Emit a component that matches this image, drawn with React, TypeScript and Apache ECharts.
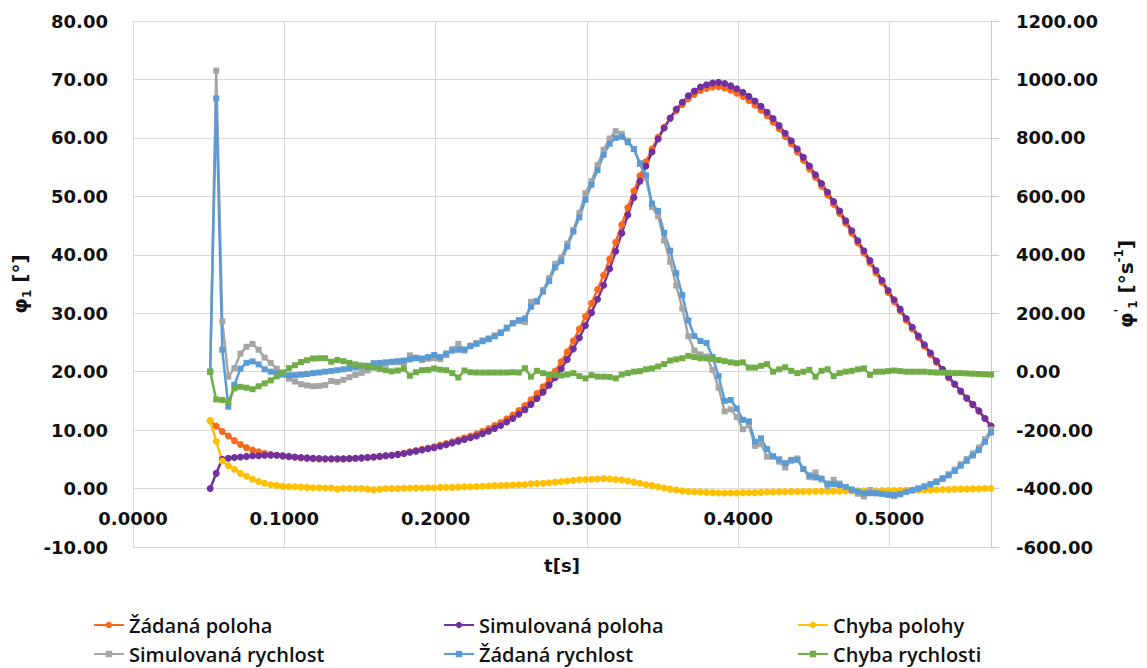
import React, { useEffect, useRef } from "react";
import * as echarts from "echarts";

// time [s]
const tValues = [
  0.051, 0.055, 0.059, 0.063, 0.067, 0.071, 0.075, 0.079, 0.083, 0.087,
  0.091, 0.095, 0.099, 0.103, 0.107, 0.111, 0.115, 0.119, 0.123, 0.127,
  0.131, 0.135, 0.139, 0.143, 0.147, 0.151, 0.155, 0.159, 0.163, 0.167,
  0.171, 0.175, 0.179, 0.183, 0.187, 0.191, 0.195, 0.199, 0.203, 0.207,
  0.211, 0.215, 0.219, 0.223, 0.227, 0.231, 0.235, 0.239, 0.243, 0.247,
  0.251, 0.255, 0.259, 0.263, 0.267, 0.271, 0.275, 0.279, 0.283, 0.287,
  0.291, 0.295, 0.299, 0.303, 0.307, 0.311, 0.315, 0.319, 0.323, 0.327,
  0.331, 0.335, 0.339, 0.343, 0.347, 0.351, 0.355, 0.359, 0.363, 0.367,
  0.371, 0.375, 0.379, 0.383, 0.387, 0.391, 0.395, 0.399, 0.403, 0.407,
  0.411, 0.415, 0.419, 0.423, 0.427, 0.431, 0.435, 0.439, 0.443, 0.447,
  0.451, 0.455, 0.459, 0.463, 0.467, 0.471, 0.475, 0.479, 0.483, 0.487,
  0.491, 0.495, 0.499, 0.503, 0.507, 0.511, 0.515, 0.519, 0.523, 0.527,
  0.531, 0.535, 0.539, 0.543, 0.547, 0.551, 0.555, 0.559, 0.563, 0.567,
];

// left axis [°]
const zadanaPoloha = [
  11.6, 10.7, 9.75, 9.0, 8.2, 7.55, 7.0, 6.6, 6.3, 6.05,
  5.85, 5.7, 5.55, 5.45, 5.35, 5.25, 5.15, 5.1, 5.05, 5.05,
  5.05, 5.05, 5.05, 5.1, 5.15, 5.2, 5.3, 5.4, 5.5, 5.6,
  5.7, 5.85, 6.05, 6.3, 6.5, 6.7, 6.95, 7.15, 7.45, 7.7,
  8.0, 8.35, 8.7, 9.0, 9.35, 9.8, 10.25, 10.8, 11.3, 11.95,
  12.6, 13.35, 14.2, 15.2, 16.25, 17.4, 18.7, 20.1, 21.7, 23.4,
  25.3, 27.3, 29.45, 31.7, 34.05, 36.5, 39.25, 42.15, 45.15, 48.1,
  50.9, 53.5, 55.9, 58.1, 60.1, 61.8, 63.3, 64.65, 65.7, 66.7,
  67.45, 68.1, 68.45, 68.7, 68.75, 68.55, 68.15, 67.65, 67.1, 66.4,
  65.6, 64.75, 63.8, 62.7, 61.55, 60.25, 59.0, 57.6, 56.2, 54.7,
  53.25, 51.75, 50.25, 48.65, 47.05, 45.4, 43.7, 42.0, 40.3, 38.6,
  36.9, 35.25, 33.55, 31.95, 30.4, 28.8, 27.3, 25.85, 24.35, 22.95,
  21.6, 20.25, 18.95, 17.8, 16.6, 15.4, 14.35, 13.25, 12.0, 10.7,
];

const simulovanaPoloha = [
  0.0, 2.6, 5.0, 5.2, 5.3, 5.4, 5.5, 5.6, 5.6, 5.7,
  5.7, 5.7, 5.6, 5.5, 5.4, 5.3, 5.25, 5.2, 5.15, 5.1,
  5.1, 5.1, 5.1, 5.15, 5.2, 5.25, 5.3, 5.4, 5.5, 5.6,
  5.7, 5.85, 6.0, 6.2, 6.4, 6.6, 6.8, 7.0, 7.25, 7.5,
  7.8, 8.1, 8.4, 8.7, 9.0, 9.4, 9.8, 10.3, 10.8, 11.4,
  12.0, 12.7, 13.5, 14.4, 15.4, 16.5, 17.7, 19.0, 20.5, 22.1,
  23.9, 25.8, 27.9, 30.1, 32.4, 34.8, 37.6, 40.6, 43.7, 46.8,
  49.8, 52.6, 55.2, 57.6, 59.8, 61.7, 63.4, 64.9, 66.1, 67.2,
  68.0, 68.7, 69.1, 69.4, 69.5, 69.3, 68.9, 68.4, 67.8, 67.1,
  66.3, 65.4, 64.4, 63.3, 62.1, 60.8, 59.5, 58.1, 56.7, 55.2,
  53.7, 52.2, 50.7, 49.1, 47.5, 45.8, 44.1, 42.4, 40.7, 39.0,
  37.3, 35.6, 33.9, 32.3, 30.7, 29.1, 27.6, 26.1, 24.6, 23.2,
  21.8, 20.4, 19.1, 17.9, 16.7, 15.5, 14.4, 13.3, 12.0, 10.7,
];

const chybaPolohy = [
  11.6, 8.1, 4.7, 3.9, 3.3, 2.6, 2.1, 1.6, 1.2, 0.9,
  0.65, 0.5, 0.4, 0.35, 0.3, 0.25, 0.2, 0.15, 0.15, 0.1,
  0.1, -0.1, 0.0, 0.0, 0.0, 0.0, -0.1, -0.2, -0.1, 0.0,
  0.0, 0.0, 0.05, 0.1, 0.1, 0.1, 0.15, 0.15, 0.2, 0.2,
  0.2, 0.25, 0.3, 0.3, 0.35, 0.4, 0.45, 0.5, 0.5, 0.55,
  0.6, 0.65, 0.7, 0.8, 0.85, 0.9, 1.0, 1.1, 1.2, 1.3,
  1.4, 1.5, 1.55, 1.6, 1.65, 1.7, 1.65, 1.55, 1.45, 1.3,
  1.1, 0.9, 0.7, 0.5, 0.3, 0.1, -0.1, -0.25, -0.4, -0.5,
  -0.55, -0.6, -0.65, -0.7, -0.75, -0.75, -0.75, -0.75, -0.7, -0.7,
  -0.7, -0.65, -0.6, -0.6, -0.55, -0.55, -0.5, -0.5, -0.5, -0.5,
  -0.45, -0.45, -0.45, -0.45, -0.45, -0.4, -0.4, -0.4, -0.4, -0.4,
  -0.4, -0.35, -0.35, -0.35, -0.3, -0.3, -0.3, -0.25, -0.25, -0.25,
  -0.2, -0.15, -0.15, -0.1, -0.1, -0.1, -0.05, -0.05, 0.0, 0.0,
];

// right axis [°/s]
const simulovanaRychlost = [
  0, 1030, 172, -17, 12, 62, 85, 95, 75, 48,
  30, 10, -7, -24, -34, -43, -47, -50, -49, -46,
  -32, -35, -28, -19, -11, -4, 4, 15, 21, 27,
  33, 32, 28, 56, 48, 40, 44, 46, 43, 57,
  77, 95, 72, 89, 98, 107, 114, 124, 135, 151,
  167, 177, 170, 239, 239, 279, 320, 369, 391, 438,
  485, 543, 611, 652, 707, 759, 798, 823, 814, 790,
  762, 711, 664, 564, 532, 449, 376, 295, 216, 121,
  72, 59, 52, 6, -55, -136, -129, -155, -197, -184,
  -254, -248, -291, -290, -308, -328, -305, -297, -333, -361,
  -345, -369, -391, -370, -383, -395, -406, -418, -427, -405,
  -416, -418, -422, -426, -420, -411, -406, -400, -393, -384,
  -375, -364, -351, -335, -317, -299, -280, -260, -231, -198,
];

const zadanaRychlost = [
  0, 935, 75, -120, -45, 10, 30, 35, 25, 8,
  0, -6, -10, -12, -12, -10, -8, -5, -3, 0,
  2, 5, 8, 11, 14, 17, 20, 29, 30, 32,
  34, 36, 38, 42, 46, 45, 50, 57, 50, 62,
  72, 75, 76, 87, 95, 104, 111, 121, 132, 148,
  165, 174, 182, 222, 242, 274, 310, 357, 378, 428,
  480, 528, 588, 640, 690, 742, 780, 800, 804, 785,
  762, 713, 672, 575, 550, 475, 414, 337, 262, 175,
  122, 105, 98, 50, -15, -100, -97, -126, -165, -170,
  -240, -228, -265, -290, -300, -313, -302, -302, -333, -355,
  -362, -366, -383, -385, -388, -395, -403, -410, -416, -416,
  -416, -418, -420, -422, -418, -411, -406, -400, -393, -386,
  -378, -367, -355, -340, -322, -305, -287, -268, -240, -208,
];

const chybaRychlosti = [
  0, -95, -97, -103, -57, -52, -55, -60, -50, -40,
  -30, -16, -3, 12, 22, 33, 39, 45, 46, 46,
  34, 40, 36, 30, 25, 21, 16, 14, 9, 5,
  1, 4, 10, -14, -2, 5, 6, 11, 7, 5,
  -5, -20, 4, -2, -3, -3, -3, -3, -3, -3,
  -2, -3, 12, -17, 3, -5, -10, -12, -13, -10,
  -5, -15, -23, -12, -17, -17, -18, -23, -10, -5,
  0, 2, 8, 11, 18, 26, 38, 42, 46, 54,
  50, 46, 46, 44, 40, 36, 32, 29, 32, 14,
  14, 20, 26, 0, 8, 15, 3, -5, 0, 6,
  -17, 3, 8, -15, -5, 0, 3, 8, 11, -11,
  0, 0, 2, 4, 2, 0, 0, 0, 0, -2,
  -3, -3, -4, -5, -5, -6, -7, -8, -9, -10,
];

const seriesNames = [
  "Žádaná poloha",
  "Simulovaná poloha",
  "Chyba polohy",
  "Simulovaná rychlost",
  "Žádaná rychlost",
  "Chyba rychlosti",
];

const seriesColors = ["#F8691C", "#7030A0", "#FFC000", "#A5A5A5", "#5B9BD5", "#70AD47"];
const seriesValues = [
  zadanaPoloha,
  simulovanaPoloha,
  chybaPolohy,
  simulovanaRychlost,
  zadanaRychlost,
  chybaRychlosti,
];
const seriesAxis = [0, 0, 0, 1, 1, 1];

const labelFont = {
  fontFamily: "DejaVu Sans",
  fontWeight: "bold" as const,
  fontSize: 18,
  color: "#111",
};

const nameRich = {
  a: { fontFamily: "DejaVu Sans", fontWeight: "bold" as const, fontSize: 20, color: "#111", lineHeight: 26 },
  sub: { fontFamily: "DejaVu Sans", fontWeight: "bold" as const, fontSize: 12, color: "#111", lineHeight: 26, verticalAlign: "bottom" as const },
  sup: { fontFamily: "DejaVu Sans", fontWeight: "bold" as const, fontSize: 12, color: "#111", lineHeight: 26, verticalAlign: "top" as const },
};

const legendPos = [
  { left: 93, top: 614 },
  { left: 443, top: 614 },
  { left: 797, top: 614 },
  { left: 93, top: 643 },
  { left: 443, top: 643 },
  { left: 797, top: 643 },
];

export default function App() {
  const ref = useRef<HTMLDivElement>(null);

  useEffect(() => {
    if (!ref.current) return;
    const chart = echarts.init(ref.current, null, { renderer: "svg" });

    const series = seriesNames.map((name, k) => {
      const isPos = seriesAxis[k] === 0;
      return {
        name,
        type: "line",
        yAxisIndex: seriesAxis[k],
        data: tValues.map((t, i) => [t, seriesValues[k][i]]),
        symbol: isPos ? "circle" : "rect",
        symbolSize: isPos ? 7 : 6,
        showSymbol: true,
        lineStyle: { color: seriesColors[k], width: 2.5 },
        itemStyle: { color: seriesColors[k] },
        emphasis: { disabled: true },
      };
    });

    const legends = seriesNames.map((name, k) => ({
      data: [name],
      left: legendPos[k].left,
      top: legendPos[k].top,
      padding: 0,
      itemWidth: 30,
      itemHeight: 8,
      textStyle: {
        fontFamily: "Open Sans",
        fontWeight: 600,
        fontSize: 20,
        color: "#111",
        lineHeight: 22,
      },
      selectedMode: false,
    }));

    chart.setOption({
      animation: false,
      backgroundColor: "#fff",
      grid: { left: 133, right: 156, top: 21, bottom: 121, containLabel: false },
      legend: legends,
      xAxis: {
        type: "value",
        min: 0,
        max: 0.567,
        interval: 0.1,
        name: "t[s]",
        nameLocation: "middle",
        nameGap: 9,
        nameTextStyle: { ...labelFont, fontSize: 18 },
        axisLine: { show: true, onZero: false, lineStyle: { color: "#d9d9d9", width: 1 } },
        axisTick: { show: false },
        axisLabel: {
          ...labelFont,
          margin: -38,
          showMaxLabel: false,
          formatter: (v: number) => v.toFixed(4),
        },
        splitLine: { show: true, lineStyle: { color: "#d9d9d9", width: 1 } },
      },
      yAxis: [
        {
          type: "value",
          position: "left",
          min: -10,
          max: 80,
          interval: 10,
          name: "{a|φ}{sub|1}{a| [°]}",
          nameLocation: "middle",
          nameRotate: 90,
          nameGap: 96,
          nameTextStyle: { ...labelFont, fontSize: 20, rich: nameRich },
          axisLine: { show: true, lineStyle: { color: "#d9d9d9", width: 1 } },
          axisTick: { show: false },
          axisLabel: { ...labelFont, margin: 25, formatter: (v: number) => v.toFixed(2) },
          splitLine: { show: true, lineStyle: { color: "#d9d9d9", width: 1 } },
        },
        {
          type: "value",
          position: "right",
          min: -600,
          max: 1200,
          interval: 200,
          name: "{a|φ}{sup|'}{sub|1}{a| [°s}{sup|-1}{a|]}",
          nameLocation: "middle",
          nameRotate: 90,
          nameGap: 122,
          nameTextStyle: { ...labelFont, fontSize: 20, rich: nameRich },
          axisLine: { show: true, lineStyle: { color: "#c8c8c8", width: 1 } },
          axisTick: { show: true, length: 8, lineStyle: { color: "#c8c8c8" } },
          axisLabel: { ...labelFont, margin: 25, formatter: (v: number) => v.toFixed(2) },
          splitLine: { show: false },
        },
      ],
      series,
    });

    return () => chart.dispose();
  }, []);

  return (
    <div
      ref={ref}
      style={{ position: "absolute", left: 0, top: 0, width: 1147, height: 668, background: "#fff" }}
    />
  );
}
